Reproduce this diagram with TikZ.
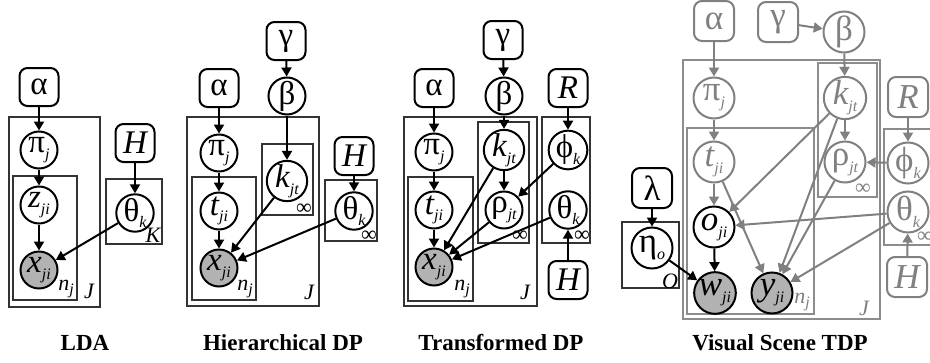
\documentclass[tikz,border=0pt]{standalone}
\usepackage{fontspec}
\setmainfont{Liberation Serif}
\usetikzlibrary{arrows.meta}
\definecolor{obsgray}{RGB}{178,178,178}
\definecolor{gc}{RGB}{128,128,128}
\definecolor{gpl}{RGB}{140,140,140}
\newcommand{\sbx}[1]{\raisebox{-0.2em}{\fontsize{16}{16}\selectfont\itshape #1}}
\newcommand{\iv}[2]{{\itshape #1}\sbx{#2}}
\tikzset{
  rv/.style={circle, draw, line width=2pt, minimum size=37pt, inner sep=0pt, fill=white, font=\fontsize{33}{33}\selectfont},
  obsv/.style={rv, fill=obsgray},
  hbox/.style={rectangle, rounded corners=8pt, draw, line width=2pt, minimum width=39pt, minimum height=38pt, inner sep=0pt, fill=white, font=\fontsize{33}{33}\selectfont},
  rvb/.style={rv, minimum size=41pt, font=\fontsize{35}{35}\selectfont},
  obsb/.style={rvb, fill=obsgray},
  hboxb/.style={hbox, minimum width=40pt, minimum height=40pt, font=\fontsize{35}{35}\selectfont},
  grey/.style={draw=gc, text=gc},
  plt/.style={draw=black!80, line width=1.2pt},
  gplt/.style={draw=gpl, line width=1.4pt},
  arr/.style={line width=2pt, -{Triangle[length=9pt,width=10pt]}},
  garr/.style={arr, draw=gc},
  plab/.style={font=\fontsize{22}{22}\selectfont\itshape, inner sep=0pt},
  inflab/.style={font=\fontsize{22}{22}\selectfont, inner sep=0pt},
  ttl/.style={font=\fontsize{23}{23}\selectfont\bfseries}
}
\begin{document}
\begin{tikzpicture}[x=1pt,y=-1pt]
\useasboundingbox (0,0) rectangle (930,362);
\clip (0,0) rectangle (930,362);

% ================= Panel 1: LDA =================
\draw[plt] (9,117) rectangle (100,307);
\draw[plt] (13,176) rectangle (77,300);
\draw[plt] (106,179) rectangle (162,244);
\node[hbox] (a1) at (39,87) {α};
\node[rv] (pi1) at (39,150) {π\sbx{j}};
\node[rv] (z1) at (39,205) {\iv{z}{ji}};
\node[obsv] (x1) at (39,270) {\iv{x}{ji}};
\node[hbox] (H1) at (135,143) {\itshape H};
\node[rv] (th1) at (135,213) {θ\sbx{k}};
\node[plab] (lK1) at (153,235) {K};
\node[plab] (ln1) at (66,289) {n\sbx{j}};
\node[plab] (lJ1) at (89,291) {J};
\draw[arr] (a1) -- (pi1);
\draw[arr] (pi1) -- (z1);
\draw[arr] (z1) -- (x1);
\draw[arr] (H1) -- (th1);
\draw[arr] (th1) -- (x1);
\node[ttl] (t1) at (85,343) {LDA};

% ================= Panel 2: HDP =================
\draw[plt] (187,117) rectangle (319,306);
\draw[plt] (192,177) rectangle (256,300);
\draw[plt] (262,144) rectangle (313,215);
\draw[plt] (325,180) rectangle (377,241);
\node[hbox] (g2) at (286,41) {γ};
\node[rv] (b2) at (287,96) {β};
\node[hbox] (a2) at (219,88) {α};
\node[rv] (pi2) at (219,153) {π\sbx{j}};
\node[rv] (t2) at (219,211) {\iv{t}{ji}};
\node[obsv] (x2) at (219,268) {\iv{x}{ji}};
\node[rv] (k2) at (287,181) {\iv{k}{jt}};
\node[hbox] (H2) at (354,156) {\itshape H};
\node[rv] (th2) at (354,211) {θ\sbx{k}};
\node[inflab] (li2a) at (304,209) {∞};
\node[inflab] (li2b) at (369,236) {∞};
\node[plab] (ln2) at (245,289) {n\sbx{j}};
\node[plab] (lJ2) at (309,292) {J};
\draw[arr] (g2) -- (b2);
\draw[arr] (a2) -- (pi2);
\draw[arr] (b2) -- (k2);
\draw[arr] (pi2) -- (t2);
\draw[arr] (t2) -- (x2);
\draw[arr] (k2) -- (x2);
\draw[arr] (H2) -- (th2);
\draw[arr] (th2) -- (x2);
\node[ttl] (t2t) at (283,343) {Hierarchical DP};

% ================= Panel 3: TDP =================
\draw[plt] (404,117) rectangle (537,306);
\draw[plt] (408,177) rectangle (473,301);
\draw[plt] (478,122) rectangle (529,243);
\draw[plt] (542,117) rectangle (590,243);
\node[hbox] (g3) at (503,40) {γ};
\node[rv] (b3) at (504,96) {β};
\node[hbox] (a3) at (434,88) {α};
\node[hbox] (R3) at (568,88) {\itshape R};
\node[rv] (pi3) at (434,152) {π\sbx{j}};
\node[rv] (t3) at (434,210) {\iv{t}{ji}};
\node[obsv] (x3) at (434,267) {\iv{x}{ji}};
\node[rv] (k3) at (504,150) {\iv{k}{jt}};
\node[rv] (r3) at (504,210) {ρ\sbx{jt}};
\node[rv] (ph3) at (568,150) {ϕ\sbx{k}};
\node[rv] (th3) at (568,210) {θ\sbx{k}};
\node[hbox] (H3) at (568,280) {\itshape H};
\node[inflab] (li3a) at (520,236) {∞};
\node[inflab] (li3b) at (582,236) {∞};
\node[plab] (ln3) at (462,289) {n\sbx{j}};
\node[plab] (lJ3) at (525,292) {J};
\draw[arr] (g3) -- (b3);
\draw[arr] (a3) -- (pi3);
\draw[arr] (b3) -- (k3);
\draw[arr] (R3) -- (ph3);
\draw[arr] (pi3) -- (t3);
\draw[arr] (t3) -- (x3);
\draw[arr] (k3) -- (r3);
\draw[arr] (ph3) -- (r3);
\draw[arr] (k3) -- (x3);
\draw[arr] (r3) -- (x3);
\draw[arr] (th3) -- (x3);
\draw[arr] (H3) -- (th3);
\node[ttl] (t3t) at (501,343) {Transformed DP};

% ================= Panel 4: Visual Scene TDP =================
\draw[gplt] (683,60) rectangle (880,319);
\draw[gplt] (687,128) rectangle (814,314);
\draw[gplt] (818,63) rectangle (877,197);
\draw[gplt] (884,129) rectangle (950,245);
\draw[plt] (622,222) rectangle (679,288);
\node[hboxb,grey] (a4) at (714,21) {α};
\node[hboxb,grey] (g4) at (778,22) {γ};
\node[rvb,grey] (b4) at (844,32) {β};
\node[rvb,grey] (pi4) at (714,98) {π\sbx{j}};
\node[rvb,grey] (k4) at (845,98) {\iv{k}{jt}};
\node[rvb,grey] (t4) at (714,162) {\iv{t}{ji}};
\node[rvb,grey] (r4) at (845,162) {ρ\sbx{jt}};
\node[hboxb,grey] (R4) at (908,97) {\itshape R};
\node[rvb,grey] (ph4) at (908,163) {ϕ\sbx{k}};
\node[rvb,grey] (th4) at (908,212) {θ\sbx{k}};
\node[hboxb,grey] (H4) at (907,277) {\itshape H};
\node[hboxb] (l4) at (652,188) {λ};
\node[rvb] (eta4) at (652,248) {η\sbx{o}};
\node[rvb] (o4) at (714,227) {\iv{o}{ji}};
\node[obsb] (w4) at (715,293) {\iv{w}{ji}};
\node[obsb] (y4) at (772,293) {\iv{y}{ji}};
\node[inflab,text=gc] (li4a) at (863,189) {∞};
\node[inflab,text=gc,anchor=west] (li4b) at (917,237) {∞};
\node[plab,text=gc] (ln4) at (802,302) {n\sbx{j}};
\node[plab,text=gc] (lJ4) at (864,308) {J};
\node[plab] (lO4) at (670,281) {O};
\draw[garr] (a4) -- (pi4);
\draw[garr] (g4) -- (b4);
\draw[garr] (b4) -- (k4);
\draw[garr] (pi4) -- (t4);
\draw[garr] (k4) -- (r4);
\draw[garr] (R4) -- (ph4);
\draw[garr] (ph4) -- (r4);
\draw[garr] (H4) -- (th4);
\draw[garr] (t4) -- (o4);
\draw[garr] (k4) -- (o4);
\draw[garr] (th4) -- (o4);
\draw[garr] (t4) -- (y4);
\draw[garr] (k4) -- (y4);
\draw[garr] (r4) -- (y4);
\draw[garr] (th4) -- (y4);
\draw[arr] (l4) -- (eta4);
\draw[arr] (o4) -- (w4);
\draw[arr] (eta4) -- (w4);
\node[ttl] (t4t) at (780,343) {Visual Scene TDP};
\end{tikzpicture}
\end{document}
